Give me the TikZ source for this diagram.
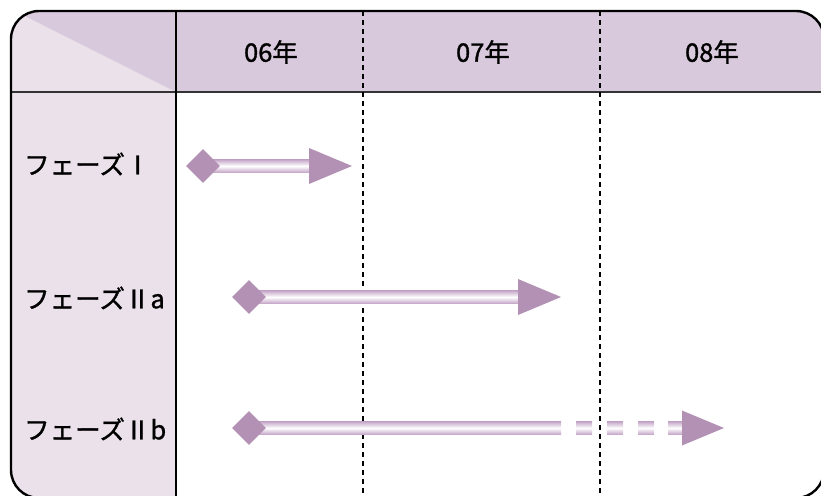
\documentclass[tikz,border=0pt]{standalone}
\usepackage{fontspec}
\setmainfont{Noto Sans CJK JP}[FakeBold=1.2]
\usetikzlibrary{shapes.geometric,calc}
\definecolor{hdr}{HTML}{D9C9DC}
\definecolor{side}{HTML}{EBE1EA}
\definecolor{mauve}{HTML}{B391B5}
\definecolor{shaftc}{HTML}{C4A5C7}
\begin{document}
\begin{tikzpicture}[x=1pt,y=-1pt,
  lbl/.style={font=\fontsize{25.5}{25.5}\selectfont, inner sep=0pt},
  dia/.style={diamond, fill=mauve, minimum width=34pt, minimum height=34pt, inner sep=0pt},
  shaftpart/.style={top color=shaftc, bottom color=shaftc, middle color=white},
  head/.style={fill=mauve},
  vdash/.style={line width=1.6pt, dash pattern=on 5pt off 4pt}]
\useasboundingbox (0,0) rectangle (821,495);
\clip (0,0) rectangle (821,495);
% backgrounds
\begin{scope}
  \clip[rounded corners=28pt] (11,11) rectangle (824,498);
  \fill[side] (11,11) rectangle (176,498);
  \fill[hdr] (176,11) rectangle (824,92);
  \fill[hdr] (0,3.5) -- (176,3.5) -- (176,92) -- cycle;
\end{scope}
% grid lines
\draw[line width=1.6pt, black!80] (11,92) -- (824,92);
\draw[line width=1.8pt] (176,11) -- (176,498);
\draw[vdash] (363,11) -- (363,498);
\draw[vdash] (600,11) -- (600,498);
\draw[line width=2.4pt, rounded corners=28pt] (11,11) rectangle (824,498);
% header labels
\node[lbl] (h06) at (271,52) {06年};
\node[lbl] (h07) at (483,52) {07年};
\node[lbl] (h08) at (712,52) {08年};
% row labels
\node[lbl, anchor=west] (r1) at (24,164) {フェーズⅠ};
\node[lbl, anchor=west] (r2) at (24,298) {フェーズⅡa};
\node[lbl, anchor=west] (r3) at (24,429) {フェーズⅡb};
% row 1
\coordinate (t1) at (352,166);
\shade[shaftpart] (203,159.5) rectangle (311,172.5);
\node[dia] (d1) at (203,166) {};
\fill[head] (t1) -- ++(-43,-18) -- ++(0,36) -- cycle;
% row 2
\coordinate (t2) at (561,297);
\shade[shaftpart] (249,290.5) rectangle (520,303.5);
\node[dia] (d2) at (249,297) {};
\fill[head] (t2) -- ++(-43,-18) -- ++(0,36) -- cycle;
% row 3
\coordinate (t3) at (724,428);
\shade[shaftpart] (249,421.5) rectangle (561,434.5);
\shade[shaftpart] (576,421.5) rectangle (592,434.5);
\shade[shaftpart] (607,421.5) rectangle (623,434.5);
\shade[shaftpart] (638,421.5) rectangle (654,434.5);
\shade[shaftpart] (668,421.5) rectangle (684,434.5);
\node[dia] (d3) at (249,428) {};
\fill[head] (t3) -- ++(-42,-17.5) -- ++(0,35) -- cycle;
\end{tikzpicture}
\end{document}
